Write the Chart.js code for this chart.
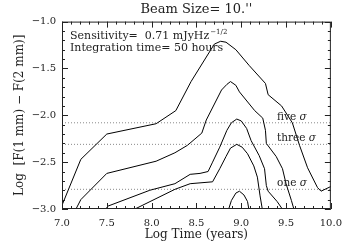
<!DOCTYPE html>
<html>
<head>
<meta charset="utf-8">
<title>Beam Size</title>
<script src="https://cdn.jsdelivr.net/npm/chart.js@4.4.1/dist/chart.umd.min.js"></script>
<style>
  html, body { margin: 0; padding: 0; background: #fff; }
  canvas { display: block; }
</style>
</head>
<body>
<canvas id="beamChart" width="350" height="250"></canvas>
<script>
// contour curves: Log Time (years) vs Log [F(1 mm) - F(2 mm)]
const curve1X = [7.00, 7.21, 7.50, 8.05, 8.27, 8.44, 8.70, 8.77, 8.83, 8.94, 9.09, 9.27, 9.30, 9.45, 9.57, 9.65, 9.74, 9.85, 9.89, 10.0];
const curve1Y = [-2.96, -2.47, -2.20, -2.09, -1.95, -1.64, -1.24, -1.21, -1.22, -1.30, -1.47, -1.66, -1.78, -1.90, -2.08, -2.32, -2.56, -2.77, -2.81, -2.76];

const curve2X = [7.14, 7.21, 7.50, 8.05, 8.26, 8.40, 8.56, 8.61, 8.78, 8.84, 8.88, 8.94, 8.98, 9.15, 9.24, 9.27, 9.28, 9.39, 9.46, 9.50, 9.56, 9.59];
const curve2Y = [-3.03, -2.90, -2.62, -2.49, -2.40, -2.32, -2.19, -2.05, -1.73, -1.67, -1.64, -1.68, -1.75, -1.95, -2.03, -2.16, -2.30, -2.44, -2.57, -2.73, -2.91, -3.01];

const curve3X = [7.48, 7.51, 7.98, 8.26, 8.43, 8.54, 8.63, 8.68, 8.76, 8.84, 8.89, 8.95, 9.00, 9.06, 9.11, 9.20, 9.26, 9.28, 9.30, 9.40, 9.48];
const curve3Y = [-3.02, -2.97, -2.80, -2.73, -2.63, -2.62, -2.60, -2.50, -2.34, -2.16, -2.08, -2.04, -2.06, -2.14, -2.27, -2.43, -2.57, -2.75, -2.81, -2.92, -3.03];

const curve4X = [7.75, 8.26, 8.43, 8.68, 8.76, 8.83, 8.88, 8.95, 9.01, 9.07, 9.14, 9.18, 9.21, 9.24];
const curve4Y = [-3.03, -2.79, -2.73, -2.71, -2.57, -2.44, -2.35, -2.31, -2.34, -2.41, -2.54, -2.66, -2.86, -3.03];

const curve5X = [8.85, 8.89, 8.94, 8.98, 9.03, 9.07, 9.09];
const curve5Y = [-3.03, -2.91, -2.83, -2.81, -2.85, -2.92, -3.03];

// detection thresholds
const sigmaLevels = [-2.08, -2.31, -2.79];
const sigmaNames = ["five", "three", "one"];

const xTicks = [7.0, 7.5, 8.0, 8.5, 9.0, 9.5, 10.0];
const yTicks = [-3.0, -2.5, -2.0, -1.5, -1.0];

const SERIF = '"DejaVu Serif", "Liberation Serif", serif';
const INK = "#222";

function toPoints(xs, ys) {
  return xs.map((x, i) => ({ x, y: ys[i] }));
}

function curve(xs, ys) {
  return {
    data: toPoints(xs, ys),
    showLine: true,
    borderColor: "#000",
    borderWidth: 1,
    pointRadius: 0,
    tension: 0,
    clip: 0
  };
}

const datasets = [
  curve(curve1X, curve1Y),
  curve(curve2X, curve2Y),
  curve(curve3X, curve3Y),
  curve(curve4X, curve4Y),
  curve(curve5X, curve5Y)
];

sigmaLevels.forEach(level => {
  datasets.push({
    data: [{ x: xTicks[0], y: level }, { x: xTicks[xTicks.length - 1], y: level }],
    showLine: true,
    borderColor: "#8a8a8a",
    borderWidth: 1,
    borderDash: [1, 2],
    pointRadius: 0,
    clip: 0
  });
});

function fmt(v) {
  return (v < 0 ? "\u2212" : "") + Math.abs(v).toFixed(1);
}

// frame with inward major/minor ticks on all sides, plus text annotations
const framePlugin = {
  id: "frame",
  afterDatasetsDraw(chart) {
    const { ctx, chartArea: a, scales: { x, y } } = chart;
    ctx.save();
    ctx.strokeStyle = INK;
    ctx.lineWidth = 1;
    ctx.strokeRect(a.left + 0.5, a.top + 0.5, a.right - a.left - 1, a.bottom - a.top - 1);

    ctx.beginPath();
    for (let i = 0; i <= 30; i++) {
      const px = Math.round(x.getPixelForValue(7 + i / 10)) + 0.5;
      const len = i % 5 === 0 ? 6 : 3;
      ctx.moveTo(px, a.bottom); ctx.lineTo(px, a.bottom - len);
      ctx.moveTo(px, a.top); ctx.lineTo(px, a.top + len);
    }
    for (let i = 0; i <= 20; i++) {
      const py = Math.round(y.getPixelForValue(-3 + i / 10)) + 0.5;
      const len = i % 5 === 0 ? 6 : 3;
      ctx.moveTo(a.left, py); ctx.lineTo(a.left + len, py);
      ctx.moveTo(a.right, py); ctx.lineTo(a.right - len, py);
    }
    ctx.stroke();

    ctx.fillStyle = INK;
    ctx.textBaseline = "alphabetic";
    ctx.textAlign = "left";

    // sensitivity / integration note
    const nx = a.left + 8;
    ctx.font = "11px " + SERIF;
    const line1 = "Sensitivity=  0.71 mJyHz";
    ctx.fillText(line1, nx, a.top + 17);
    const w1 = ctx.measureText(line1).width;
    ctx.font = "7px " + SERIF;
    ctx.fillText("\u22121/2", nx + w1 + 1, a.top + 12);
    ctx.font = "11px " + SERIF;
    ctx.fillText("Integration time= 50 hours", nx, a.top + 29);

    // sigma labels sitting above their dotted lines
    const sx = x.getPixelForValue(9.4);
    sigmaLevels.forEach((level, i) => {
      const sy = y.getPixelForValue(level) - 3;
      ctx.font = "10.5px " + SERIF;
      const txt = sigmaNames[i] + " ";
      ctx.fillText(txt, sx, sy);
      const w = ctx.measureText(txt).width;
      ctx.font = "italic 10.5px " + SERIF;
      ctx.fillText("\u03c3", sx + w, sy);
    });
    ctx.restore();
  }
};

new Chart(document.getElementById("beamChart"), {
  type: "scatter",
  data: { datasets },
  options: {
    responsive: false,
    animation: false,
    events: [],
    layout: { padding: { left: 0, right: 18, top: 0, bottom: 0 } },
    plugins: {
      legend: { display: false },
      tooltip: { enabled: false },
      title: {
        display: true,
        text: "Beam Size= 10.''",
        fullSize: false,
        color: INK,
        font: { family: SERIF, size: 13, weight: "normal" },
        padding: { top: 2, bottom: 4 }
      }
    },
    scales: {
      x: {
        type: "linear",
        min: 7,
        max: 10,
        grid: { display: false, drawTicks: false },
        border: { display: false },
        afterBuildTicks: s => { s.ticks = xTicks.map(v => ({ value: v })); },
        afterFit: s => { s.height = 41; },
        ticks: {
          padding: 8,
          maxRotation: 0,
          autoSkip: false,
          color: INK,
          font: { family: SERIF, size: 10 },
          callback: v => fmt(v)
        },
        title: {
          display: true,
          text: "Log Time (years)",
          color: INK,
          font: { family: SERIF, size: 12 },
          padding: { top: 0, bottom: 8 }
        }
      },
      y: {
        type: "linear",
        min: -3,
        max: -1,
        grid: { display: false, drawTicks: false },
        border: { display: false },
        afterBuildTicks: s => { s.ticks = yTicks.map(v => ({ value: v })); },
        afterFit: s => { s.width = 62; },
        ticks: {
          padding: 6,
          autoSkip: false,
          color: INK,
          font: { family: SERIF, size: 10 },
          callback: v => fmt(v)
        },
        title: {
          display: true,
          text: "Log  [F(1 mm) \u2212 F(2 mm)]",
          color: INK,
          font: { family: SERIF, size: 12 },
          padding: { top: 13, bottom: 0 }
        }
      }
    }
  },
  plugins: [framePlugin]
});
</script>
</body>
</html>
